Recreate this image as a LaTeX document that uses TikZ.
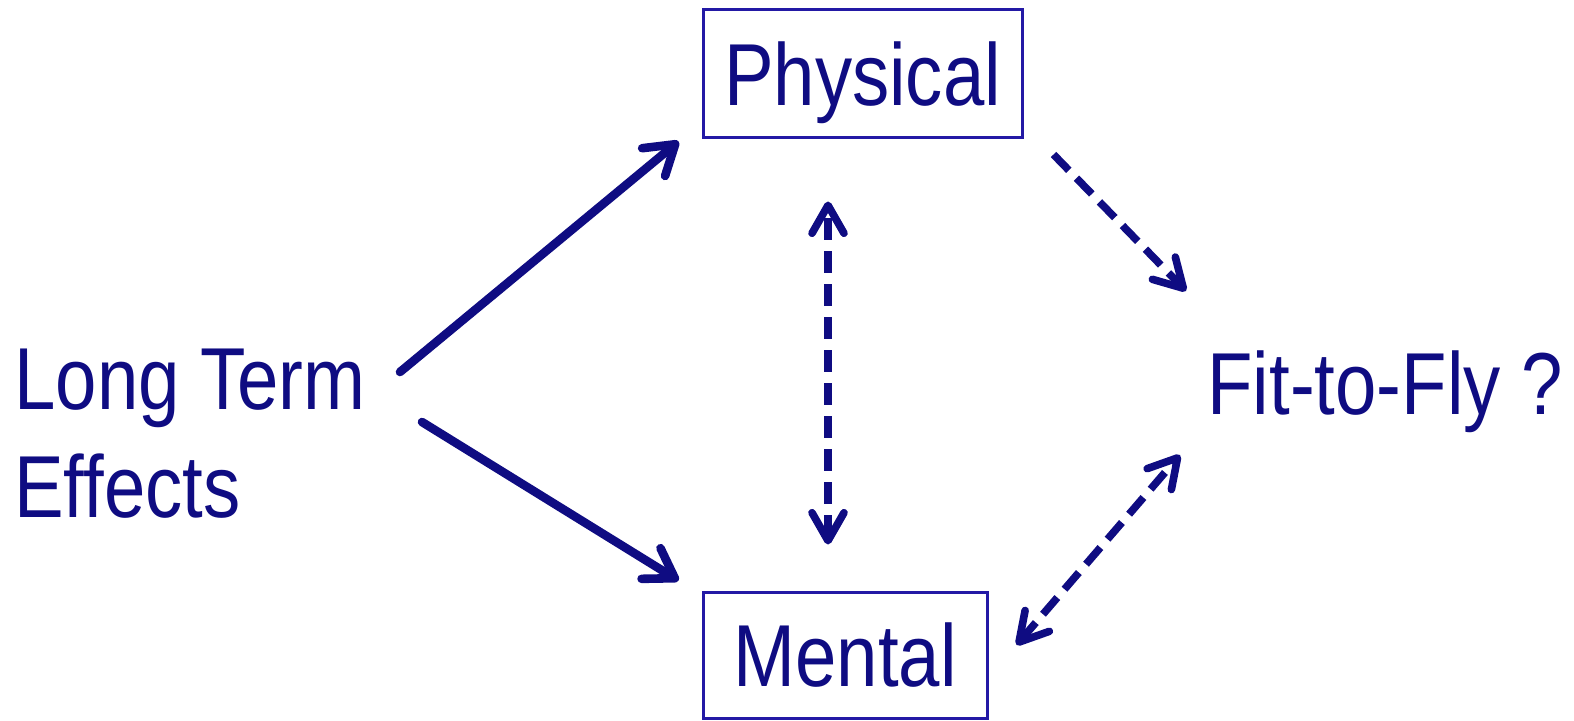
\documentclass[tikz,border=0pt]{standalone}
\usepackage{fontspec}
\setmainfont{Liberation Sans}
\usetikzlibrary{arrows.meta}
\definecolor{navy}{RGB}{15,12,130}
\definecolor{boxblue}{RGB}{35,25,165}
\newcommand{\nx}[1]{\scalebox{0.845}[1]{#1}}
\tikzset{
  lbl/.style={inner sep=0pt, text=navy, font=\fontsize{44}{54}\selectfont},
  boxed/.style={lbl, draw=boxblue, line width=1.5pt, text height=31.5pt, text depth=0pt},
  solidarrow/.style={draw=navy, line width=4.3pt, line cap=round,
     -{Straight Barb[length=14pt,width=18pt,round]}},
  dasharrow/.style={draw=navy, line width=3.8pt, dash pattern=on 11pt off 5.5pt,
     -{Straight Barb[length=14pt,width=16pt,round]}},
  dashboth/.style={dasharrow,
     {Straight Barb[length=14pt,width=16pt,round]}-{Straight Barb[length=14pt,width=16pt,round]}}
}
\begin{document}
\begin{tikzpicture}[x=0.5pt,y=-0.5pt]
\useasboundingbox (0,0) rectangle (1574,721);
\node[boxed, minimum width=159.5pt, minimum height=64pt] (phys) at (862.5,74) {\nx{Physical}};
\node[boxed, minimum width=142pt, minimum height=63pt] (ment) at (845,655) {\nx{Mental}};
\node[lbl, anchor=base west] (lt) at (14,410)
  {\nx{\begin{tabular}[t]{@{}l@{}}Long Term\\Effects\end{tabular}}};
\node[lbl, anchor=base west] (fit) at (1207,415) {\nx{Fit-to-Fly ?}};

\draw[solidarrow] ([shift={(386,-38)}]lt.base west) -- ([shift={(-23,2)}]phys.south west);
\draw[solidarrow] ([shift={(408,12)}]lt.base west) -- ([shift={(-23,-10)}]ment.north west);
\draw[dashboth] ([shift={(-17,-46)}]ment.north) -- ([shift={(-34.5,62)}]phys.south);
\draw[dasharrow] ([shift={(30,15)}]phys.south east) -- ([shift={(-21,-124)}]fit.base west);
\draw[dashboth] ([shift={(28,-10)}]ment.east) -- ([shift={(-27,40)}]fit.base west);
\end{tikzpicture}
\end{document}
